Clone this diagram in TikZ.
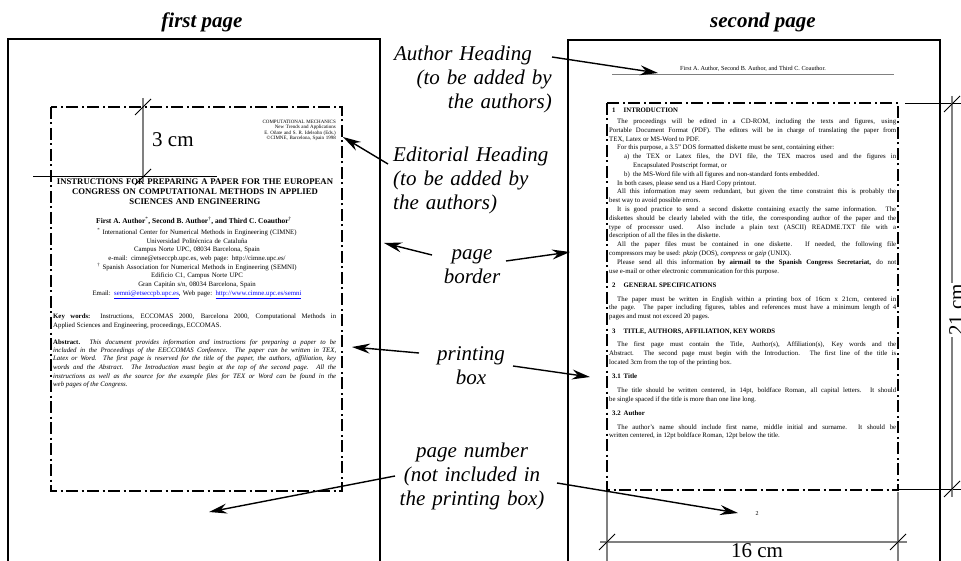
\documentclass[tikz,border=0pt]{standalone}
\usepackage{fontspec}
\setmainfont{Liberation Serif}
\usetikzlibrary{arrows.meta}

\newcommand{\weblink}[1]{\textcolor{blue}{\underline{#1}}}
\newcommand{\dimtick}[1]{\draw[tickmark] (#1) +(-8,8) -- +(8,-8);}
\newcommand{\sechead}[2]{\noindent\hspace*{3pt}\textbf{\makebox[11.5pt][l]{#1}#2}\par}

\tikzset{
  pageframe/.style={draw, line width=1.3pt},
  printbox/.style={draw, line width=2pt, dash pattern=on 12pt off 3.5pt on 2pt off 3.5pt},
  dimline/.style={draw=gray, line width=1.1pt},
  extline/.style={draw, line width=1pt},
  tickmark/.style={draw, line width=0.8pt},
  headrule/.style={draw=gray, line width=0.8pt},
  callout/.style={draw, line width=1.4pt, -{Stealth[length=18pt,width=10pt,inset=6pt]}},
  lbl/.style={font=\fontsize{21}{24}\selectfont\itshape, inner sep=0pt, text width=170pt},
  pagetitle/.style={font=\fontsize{21}{24}\selectfont\bfseries\itshape, inner sep=0pt, anchor=base},
  dimlbl/.style={font=\fontsize{21}{24}\selectfont, inner sep=0pt},
  body/.style={inner sep=0pt, align=justify, anchor=base west},
}

\begin{document}
\begin{tikzpicture}[x=1pt, y=-1pt]
  \useasboundingbox (0,0) rectangle (961,561);
  \clip (0,0) rectangle (961,561);
  \hbadness=10000 \hfuzz=3pt

  % the two pages
  \node[pagetitle] (firsttitle) at (202,28) {first page};
  \node[pagetitle] (secondtitle) at (763,28) {second page};
  \draw[pageframe] (8,39) rectangle (380,600);
  \draw[pageframe] (568,40) rectangle (940,600);
  \draw[printbox] (51,107) rectangle (342,491);
  \draw[printbox] (607,103) rectangle (898,490);

  % first page text
  \node[font=\fontsize{5}{5.5}\selectfont, text width=120pt, align=right, anchor=base east, inner sep=0pt] (edhead) at (336,123.5)
    {COMPUTATIONAL MECHANICS\\New Trends and Applications\\E. Oñate and S. R. Idelsohn (Eds.)\\©CIMNE, Barcelona, Spain 1998};
  \node[font=\fontsize{8.7}{9.8}\selectfont\bfseries, text width=300pt, align=center, anchor=base, inner sep=0pt] (papertitle) at (195,185)
    {INSTRUCTIONS FOR PREPARING A PAPER FOR THE EUROPEAN\\CONGRESS ON COMPUTATIONAL METHODS IN APPLIED\\SCIENCES AND ENGINEERING};
  \node[font=\fontsize{7.4}{9}\selectfont\bfseries, anchor=base, inner sep=0pt] (authors) at (194,223.5)
    {First A. Author\textsuperscript{\mdseries *}, Second B. Author\textsuperscript{\mdseries\textdagger}, and Third C. Coauthor\textsuperscript{\mdseries\textdagger}};
  \node[font=\fontsize{6.8}{8.7}\selectfont, text width=300pt, align=center, anchor=base, inner sep=0pt] (affil) at (197,234.5)
    {\textsuperscript{*} International Center for Numerical Methods in Engineering (CIMNE)\\
     Universidad Politécnica de Cataluña\\
     Campus Norte UPC, 08034 Barcelona, Spain\\
     e-mail: cimne@etseccpb.upc.es, web page: http://cimne.upc.es/\\
     \textsuperscript{\textdagger} Spanish Association for Numerical Methods in Engineering (SEMNI)\\
     Edificio C1, Campus Norte UPC\\
     Gran Capitán s/n, 08034 Barcelona, Spain\\
     Email: \weblink{semni@etseccpb.upc.es}, Web page: \weblink{http://www.cimne.upc.es/semni}};
  \node[body, font=\fontsize{6.8}{9}\selectfont, text width=283pt] (keywords) at (53,318.5)
    {\textbf{Key words:} Instructions, ECCOMAS 2000, Barcelona 2000, Computational Methods in\linebreak
     Applied Sciences and Engineering, proceedings, ECCOMAS.};
  \node[body, font=\fontsize{6.8}{8.5}\selectfont, text width=283pt] (abstract) at (53,344)
    {\textbf{Abstract.} \textit{This document provides information and instructions for preparing a paper to be\linebreak
     included in the Proceedings of the EECCOMAS Confeence. The paper can be written in TEX,\linebreak
     Latex or Word. The first page is reserved for the title of the paper, the authors, affiliation, key\linebreak
     words and the Abstract. The Introduction must begin at the top of the second page. All the\linebreak
     instructions as well as the source for the example files for TEX or Word can be found in the\linebreak
     web pages of the Congress.}};

  % second page text
  \node[font=\fontsize{6.2}{7}\selectfont, anchor=base, inner sep=0pt] (authhead) at (753,71)
    {First A. Author, Second B. Author, and Third C. Coauthor.};
  \draw[headrule] (612,74.5) -- (894,74.5);
  \node[body, font=\fontsize{6.8}{8.8}\selectfont, text width=287pt] (bodytwo) at (609,113)
    {\setlength{\parindent}{8pt}%
     \sechead{1}{INTRODUCTION}\vspace{1.7pt}
     The proceedings will be edited in a CD-ROM, including the texts and figures, using\linebreak
     Portable Document Format (PDF). The editors will be in charge of translating the paper from\linebreak
     TEX, Latex or MS-Word to PDF.\par
     For this purpose, a 3.5” DOS formatted diskette must be sent, containing either:\par
     \noindent\hangindent=24pt\hspace*{15pt}\makebox[9pt][l]{a)}the TEX or Latex files, the DVI file, the TEX macros used and the figures in\linebreak
     Encapsulated Postscript format, or\par
     \noindent\hangindent=24pt\hspace*{15pt}\makebox[9pt][l]{b)}the MS-Word file with all figures and non-standard fonts embedded.\par
     In both cases, please send us a Hard Copy printout.\par
     All this information may seem redundant, but given the time constraint this is probably the\linebreak
     best way to avoid possible errors.\par
     It is good practice to send a second diskette containing exactly the same information. The\linebreak
     diskettes should be clearly labeled with the title, the corresponding author of the paper and the\linebreak
     type of processor used. Also include a plain text (ASCII) README.TXT file with a\linebreak
     description of all the files in the diskette.\par
     All the paper files must be contained in one diskette. If needed, the following file\linebreak
     compressors may be used: \textit{pkzip} (DOS), \textit{compress} or \textit{gzip} (UNIX).\par
     Please send all this information \textbf{by airmail to the Spanish Congress Secretariat,} do not\linebreak
     use e-mail or other electronic communication for this purpose.\par
     \vspace{5.7pt}\sechead{2}{GENERAL SPECIFICATIONS}\vspace{4.7pt}
     The paper must be written in English within a printing box of 16cm x 21cm, centered in\linebreak
     the page. The paper including figures, tables and references must have a minimum length of 4\linebreak
     pages and must not exceed 20 pages.\par
     \vspace{5.7pt}\sechead{3}{TITLE, AUTHORS, AFFILIATION, KEY WORDS}\vspace{4.7pt}
     The first page must contain the Title, Author(s), Affiliation(s), Key words and the\linebreak
     Abstract. The second page must begin with the Introduction. The first line of the title is\linebreak
     located 3cm from the top of the printing box.\par
     \vspace{5.7pt}\sechead{3.1}{Title}\vspace{4.7pt}
     The title should be written centered, in 14pt, boldface Roman, all capital letters. It should\linebreak
     be single spaced if the title is more than one line long.\par
     \vspace{5.7pt}\sechead{3.2}{Author}\vspace{4.7pt}
     The author's name should include first name, middle initial and surname. It should be\linebreak
     written centered, in 12pt boldface Roman, 12pt below the title.\par};
  \node[font=\fontsize{6}{7}\selectfont, inner sep=0pt] (pagenum) at (757,514) {2};

  % dimensions
  \draw[dimline] (143,98) -- (143,182);
  \draw[extline] (33,177) -- (217,177);
  \coordinate (tc1) at (143,107); \coordinate (tc2) at (143,177);
  \dimtick{tc1} \dimtick{tc2}
  \node[dimlbl, anchor=base west] (threecm) at (152,147) {3 cm};

  \draw[dimline] (607,492) -- (607,561);
  \draw[dimline] (898,492) -- (898,561);
  \draw[dimline] (600,542) -- (907,542);
  \coordinate (sc1) at (607,542); \coordinate (sc2) at (898,542);
  \dimtick{sc1} \dimtick{sc2}
  \node[dimlbl, anchor=base] (sixteencm) at (757,557) {16 cm};

  \draw[extline] (905,104) -- (961,104);
  \draw[extline] (898,489) -- (961,489);
  \draw[dimline] (952,96) -- (952,283);
  \draw[dimline] (952,337) -- (952,497);
  \coordinate (wc1) at (952,104); \coordinate (wc2) at (952,489);
  \dimtick{wc1} \dimtick{wc2}
  \node[dimlbl, rotate=90, anchor=base] (twentyonecm) at (963,310) {21 cm};

  % labels and arrows
  \node[lbl, align=right, anchor=base east] (authlbl) at (552,61) {Author Heading\hbox to 20pt{}\\(to be added by\\the authors)};
  \node[lbl, align=left, anchor=base west] (editlbl) at (393,162) {Editorial Heading\\(to be added by\\the authors)};
  \node[lbl, align=center, anchor=base] (borderlbl) at (472,260) {page\\border};
  \node[lbl, align=center, anchor=base] (printlbl) at (471,360) {printing\\box};
  \node[lbl, align=center, anchor=base] (numlbl) at (472,457) {page number\\(not included in\\the printing box)};

  \coordinate (authfrom) at (552,57);   \coordinate (authto) at (658,73);
  \coordinate (editfrom) at (388,164);  \coordinate (editto) at (343,137);
  \coordinate (borderl) at (432,255);   \coordinate (bordertoa) at (384,243);
  \coordinate (borderr) at (506,261);   \coordinate (bordertob) at (570,252);
  \coordinate (printl) at (419,353);    \coordinate (printtoa) at (352,347);
  \coordinate (printr) at (513,366);    \coordinate (printtob) at (590,377);
  \coordinate (numl) at (395,476);      \coordinate (numtoa) at (209,512);
  \coordinate (numr) at (557,483);      \coordinate (numtob) at (738,513);

  \path (authfrom) edge[callout] (authto)
    (editfrom) edge[callout] (editto)
    (borderl) edge[callout] (bordertoa)
    (borderr) edge[callout] (bordertob)
    (printl) edge[callout] (printtoa)
    (printr) edge[callout] (printtob)
    (numl) edge[callout] (numtoa)
    (numr) edge[callout] (numtob);
\end{tikzpicture}
\end{document}
